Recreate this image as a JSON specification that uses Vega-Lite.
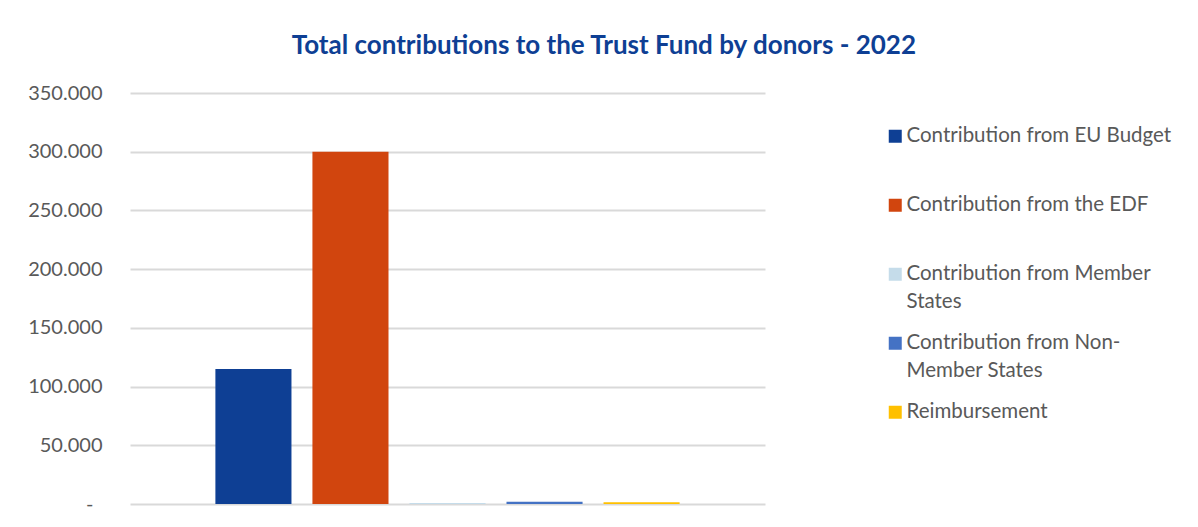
{
  "$schema": "https://vega.github.io/schema/vega-lite/v6.json",
  "width": 635,
  "height": 411,
  "autosize": {"type": "none"},
  "padding": {"left": 130, "top": 93, "right": 433, "bottom": 23},
  "background": "white",
  "title": {
    "text": "Total contributions to the Trust Fund by donors - 2022",
    "font": "Lato",
    "fontSize": 26,
    "fontWeight": "bold",
    "color": "#0E3F94",
    "anchor": "start",
    "offset": 24,
    "dx": 264
  },
  "data": {
    "values": [
      {"donor": "Contribution from EU Budget", "value": 115000},
      {"donor": "Contribution from the EDF", "value": 300000},
      {"donor": "Contribution from Member|States", "value": 800},
      {"donor": "Contribution from Non-|Member States", "value": 2000},
      {"donor": "Reimbursement", "value": 1500}
    ]
  },
  "mark": {"type": "bar"},
  "encoding": {
    "x": {
      "field": "donor",
      "type": "nominal",
      "sort": null,
      "axis": null,
      "scale": {"paddingInner": 0.216, "paddingOuter": 0.88}
    },
    "y": {
      "field": "value",
      "type": "quantitative",
      "scale": {"domain": [0, 350000], "nice": false},
      "axis": {
        "title": null,
        "values": [0, 50000, 100000, 150000, 200000, 250000, 300000, 350000],
        "labelExpr": "datum.value == 0 ? '-' : replace(format(datum.value, ',.0f'), ',', '.')",
        "labelFont": "Lato",
        "labelFontSize": 20,
        "labelColor": "#595959",
        "labelPadding": {"condition": {"test": "datum.value == 0", "value": 37}, "value": 28},
        "ticks": false,
        "domain": false,
        "grid": true,
        "gridColor": "#D9D9D9",
        "gridWidth": 2
      }
    },
    "color": {
      "field": "donor",
      "type": "nominal",
      "sort": null,
      "scale": {
        "domain": [
          "Contribution from EU Budget",
          "Contribution from the EDF",
          "Contribution from Member|States",
          "Contribution from Non-|Member States",
          "Reimbursement"
        ],
        "range": ["#0E3F94", "#D1450E", "#C5DCEA", "#4472C4", "#FFC000"]
      },
      "legend": {
        "title": null,
        "orient": "none",
        "legendX": 755,
        "legendY": 33,
        "symbolType": "square",
        "symbolSize": 169,
        "symbolStrokeWidth": 0,
        "labelFont": "Lato",
        "labelFontSize": 20.5,
        "labelColor": "#595959",
        "labelLimit": 400,
        "labelOffset": 1,
        "labelBaseline": "middle",
        "labelExpr": "split(datum.label + (indexof(datum.label, '|') < 0 ? '|' : ''), '|')",
        "rowPadding": 20
      }
    }
  },
  "config": {
    "view": {"stroke": null},
    "style": {"guide-label": {"lineHeight": 28}}
  }
}
